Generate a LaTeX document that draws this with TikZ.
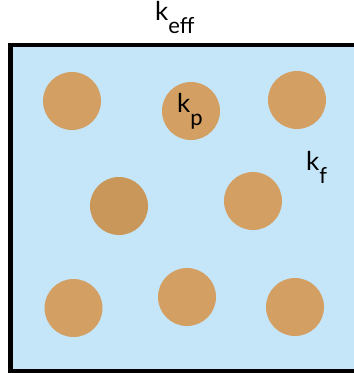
\documentclass[tikz,border=0pt]{standalone}
\usepackage{fontspec}
\setmainfont{Lato}
\usepackage{tikz}
\definecolor{fluidcol}{RGB}{197,229,248}
\definecolor{partcol}{RGB}{211,159,98}
\definecolor{partdark}{RGB}{201,151,90}
\newcommand{\klab}[1]{k\raisebox{-13pt}{\fontsize{22}{24}\selectfont #1}}

\begin{document}
\begin{tikzpicture}[x=1pt,y=-1pt,
  part/.style={circle,fill=partcol,inner sep=0pt,minimum size=58pt},
  lab/.style={anchor=base west,inner sep=0pt,font=\fontsize{26}{30}\selectfont}]
\useasboundingbox (0,0) rectangle (354,373);
\clip (0,0) rectangle (354,373);
\draw[line width=4.6pt,fill=fluidcol] (10.5,45) rectangle (364,371);
\foreach \n/\x/\y in {1/72/101,2/191/111,3/297/100,5/253/201,6/73.5/308,7/187/297,8/295/307}
  \node[part] (p\n) at (\x,\y) {};
\node[part,fill=partdark] (p4) at (119,206) {};
\node[lab] (keff) at (155,20.7) {\klab{eff}};
\node[lab] (kp) at (177,112) {\klab{p}};
\node[lab] (kf) at (306,170) {\klab{f}};
\end{tikzpicture}
\end{document}
